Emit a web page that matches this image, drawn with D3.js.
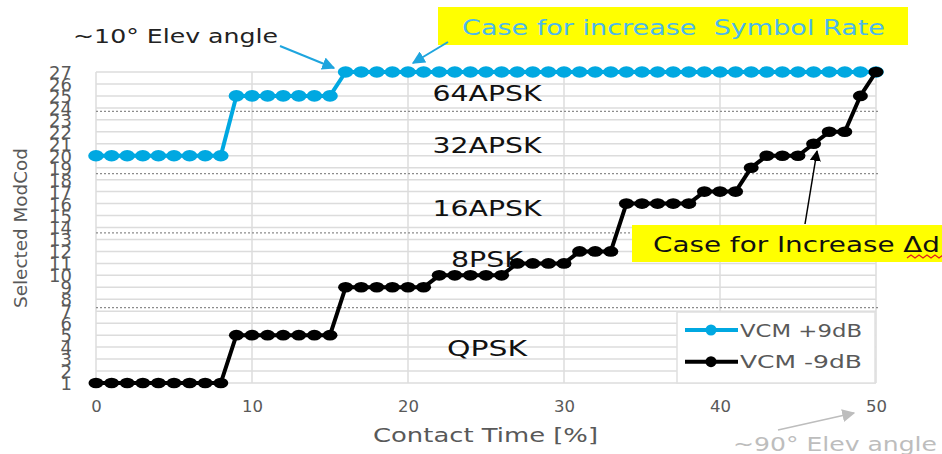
<!DOCTYPE html>
<html><head><meta charset="utf-8">
<script src="https://cdn.jsdelivr.net/npm/d3@7"></script>
<style>html,body{margin:0;padding:0;background:#fff;}svg{display:block;font-family:"DejaVu Sans",Verdana,sans-serif;}</style>
</head><body>
<svg id="c" width="942" height="454"></svg>
<script>
// ---- data ----
const contactTime = d3.range(0, 51); // 0..50 %
const vcmPlus9 = [20,20,20,20,20,20,20,20,20, 25,25,25,25,25,25,25,
  27,27,27,27,27,27,27,27,27,27,27,27,27,27,27,27,27,27,27,27,27,27,27,27,27,27,27,27,27,27,27,27,27,27,27];
const vcmMinus9 = [1,1,1,1,1,1,1,1,1, 5,5,5,5,5,5,5, 9,9,9,9,9,9, 10,10,10,10,10,
  11,11,11,11, 12,12,12, 16,16,16,16,16, 17,17,17, 19, 20,20,20, 21, 22,22, 25, 27];
const yTicks = d3.range(1, 28);
const xTicks = [0,10,20,30,40,50];
const bandBounds = [23.7, 18.5, 13.55, 7.3];
const bandLabels = [
  {name:"64APSK", v:25.25},
  {name:"32APSK", v:20.9},
  {name:"16APSK", v:15.6},
  {name:"8PSK", v:11.35},
  {name:"QPSK", v:3.9}
];
const seriesNames = ["VCM +9dB", "VCM -9dB"];

// ---- layout ----
const svg = d3.select("#c");
const L = 96, R = 876, T = 72, B = 383;
const x = d3.scaleLinear().domain([0,50]).range([L,R]);
const y = d3.scaleLinear().domain([1,27]).range([B,T]);
const blue = "#00a8e1";

function fitText(g, str, xx, yy, size, len, fill, anchor) {
  const t = g.append("text").attr("x", xx).attr("y", yy)
    .attr("font-size", size).attr("fill", fill).text(str);
  if (len) t.attr("textLength", len).attr("lengthAdjust", "spacingAndGlyphs");
  if (anchor) t.attr("text-anchor", anchor);
  return t;
}

// defs for arrows
const defs = svg.append("defs");
function mk(id, color, size) {
  defs.append("marker").attr("id", id).attr("viewBox", "0 0 10 10")
    .attr("refX", 9).attr("refY", 5).attr("markerWidth", size).attr("markerHeight", size)
    .attr("orient", "auto").attr("markerUnits", "userSpaceOnUse")
    .append("path").attr("d", "M0,0 L10,5 L0,10 z").attr("fill", color);
}
mk("ab", "#1ea5de", 13);
mk("ak", "#000", 11);
mk("ag", "#bdbdbd", 13);

// grid
const grid = svg.append("g");
grid.selectAll("line.h").data(yTicks).join("line")
  .attr("x1", L).attr("x2", R).attr("y1", d => y(d)).attr("y2", d => y(d))
  .attr("stroke", "#dcdcdc").attr("stroke-width", 1.5);
grid.selectAll("line.v").data(xTicks).join("line")
  .attr("x1", d => x(d)).attr("x2", d => x(d)).attr("y1", T).attr("y2", B)
  .attr("stroke", "#dcdcdc").attr("stroke-width", 1.5);
grid.selectAll("line.b").data(bandBounds).join("line")
  .attr("x1", L).attr("x2", R + 4).attr("y1", d => y(d)).attr("y2", d => y(d))
  .attr("stroke", "#8c8c8c").attr("stroke-width", 1.2).attr("stroke-dasharray", "2,2");

// band labels
const bl = svg.append("g");
bandLabels.forEach(b => {
  fitText(bl, b.name, 487, y(b.v) + 8, 21, b.name.length === 6 ? 109 : (b.name === "8PSK" ? 72 : 80), "#111", "middle");
});

// axes
const yAxis = svg.append("g").attr("transform", `translate(${L},0)`)
  .call(d3.axisLeft(y).tickValues(yTicks).tickSize(0).tickPadding(24).tickFormat(d3.format("d")));
yAxis.select(".domain").remove();
yAxis.selectAll("text").attr("font-size", 18).attr("fill", "#595959")
  .attr("font-family", "DejaVu Sans").attr("dy", "0.36em");

const xAxis = svg.append("g").attr("transform", `translate(0,${B})`)
  .call(d3.axisBottom(x).tickValues(xTicks).tickSize(0).tickFormat(d3.format("d")));
xAxis.select(".domain").remove();
xAxis.selectAll("text").attr("font-size", 16.5).attr("fill", "#595959")
  .attr("font-family", "DejaVu Sans").attr("y", 29).attr("dy", 0);

// axis titles
fitText(svg, "Contact Time [%]", 373, 442, 20, 225, "#595959");
svg.append("text").attr("transform", "translate(27,228) rotate(-90)")
  .attr("text-anchor", "middle").attr("font-size", 18.5).attr("fill", "#595959")
  .attr("textLength", 160).attr("lengthAdjust", "spacingAndGlyphs").text("Selected ModCod");

// series
const series = [
  {name: seriesNames[0], vals: vcmPlus9, color: blue, rx: 7.8, ry: 5.8},
  {name: seriesNames[1], vals: vcmMinus9, color: "#000", rx: 7.5, ry: 5.3}
];
const line = d3.line().x(d => x(d[0])).y(d => y(d[1]));
series.forEach(s => {
  const pts = contactTime.map((t, i) => [t, s.vals[i]]);
  svg.append("path").attr("d", line(pts)).attr("fill", "none")
    .attr("stroke", s.color).attr("stroke-width", 4).attr("stroke-linejoin", "round");
  svg.append("g").selectAll("ellipse").data(pts).join("ellipse")
    .attr("cx", d => x(d[0])).attr("cy", d => y(d[1]))
    .attr("rx", s.rx).attr("ry", s.ry).attr("fill", s.color);
});

// legend
const lg = svg.append("g");
lg.append("rect").attr("x", 677).attr("y", 312).attr("width", 198).attr("height", 71)
  .attr("fill", "#fff").attr("stroke", "#e0e0e0").attr("stroke-width", 1.5);
series.forEach((s, i) => {
  const yy = 330 + i * 31.7;
  lg.append("line").attr("x1", 685).attr("x2", 738).attr("y1", yy).attr("y2", yy)
    .attr("stroke", s.color).attr("stroke-width", 4);
  lg.append("circle").attr("cx", 711).attr("cy", yy).attr("r", 5.5).attr("fill", s.color);
  fitText(lg, s.name, 740, yy + 6.7, 17.5, 122, "#595959");
});

// annotations
const an = svg.append("g");
fitText(an, "~10° Elev angle", 73, 43, 20, 205, "#222");
an.append("line").attr("x1", 280).attr("y1", 46).attr("x2", 334).attr("y2", 68)
  .attr("stroke", "#1ea5de").attr("stroke-width", 2).attr("marker-end", "url(#ab)");

an.append("rect").attr("x", 438).attr("y", 7).attr("width", 470).attr("height", 38).attr("fill", "#ffff00");
fitText(an, "Case for increase  Symbol Rate", 462, 35, 20.5, 423, "#4cb8ec").attr("xml:space", "preserve").style("white-space", "pre");
an.append("line").attr("x1", 448).attr("y1", 42).attr("x2", 413).attr("y2", 63)
  .attr("stroke", "#1ea5de").attr("stroke-width", 2).attr("marker-end", "url(#ab)");

an.append("rect").attr("x", 632).attr("y", 225).attr("width", 320).attr("height", 37).attr("fill", "#ffff00");
fitText(an, "Case for Increase \u0394d", 653, 252, 20.5, 287, "#111");
an.append("path").attr("d", d3.range(0, 10).map((k) => `${k === 0 ? "M" : "L"}${907 + k * 4},${k % 2 ? 255 : 258}`).join(" "))
  .attr("fill", "none").attr("stroke", "#e02020").attr("stroke-width", 1.2);
an.append("line").attr("x1", 805).attr("y1", 224).attr("x2", 817).attr("y2", 151)
  .attr("stroke", "#000").attr("stroke-width", 1.5).attr("marker-end", "url(#ak)");

fitText(an, "~90° Elev angle", 733, 451, 19, 204, "#bdbdbd");
an.append("line").attr("x1", 778).attr("y1", 430).attr("x2", 854).attr("y2", 413)
  .attr("stroke", "#bdbdbd").attr("stroke-width", 1.5).attr("marker-end", "url(#ag)");
</script>
</body></html>
